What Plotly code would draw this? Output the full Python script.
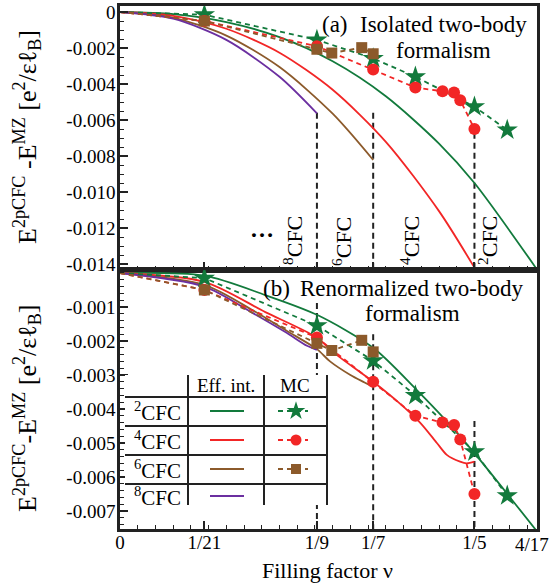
import plotly.graph_objects as go

# ---------------- data ----------------
NU_TICKS = [0, 1/21, 1/9, 1/7, 1/5, 4/17]
NU_LABELS = ["0", "1/21", "1/9", "1/7", "1/5", ""]
NU_EDGE_LABEL = "4/17"
A_YTICKS = [0, -0.002, -0.004, -0.006, -0.008, -0.010, -0.012, -0.014]
A_YLABELS = ["0", "-0.002", "-0.004", "-0.006", "-0.008", "-0.010", "-0.012", "-0.014"]
B_YTICKS = [-0.001, -0.002, -0.003, -0.004, -0.005, -0.006, -0.007]
B_YLABELS = ["-0.001", "-0.002", "-0.003", "-0.004", "-0.005", "-0.006", "-0.007"]
A_YRANGE = [-0.01433, 0.000333]
B_YRANGE = [-0.00753, 0.000088]

# (a) isolated two-body, effective interaction
a_nu_2 = [0, 0.03, 0.06, 0.09, 0.12, 0.15, 0.18, 0.20, 0.2353]
a_E_2 = [0, -0.00012, -0.00056, -0.00140, -0.00274, -0.00468, -0.00731, -0.0095, -0.0143]
a_nu_4 = [0, 0.03, 0.06, 0.09, 0.12, 0.15, 0.18, 0.20]
a_E_4 = [0, -0.00021, -0.00093, -0.00226, -0.00432, -0.00721, -0.01106, -0.0142]
a_nu_6 = [0, 0.03, 0.06, 0.09, 0.12, 1/7]
a_E_6 = [0, -0.00032, -0.00131, -0.00306, -0.00565, -0.00822]
a_nu_8 = [0, 0.03, 0.06, 0.09, 1/9]
a_E_8 = [0, -0.00037, -0.00155, -0.00360, -0.00563]

# (b) renormalized two-body, effective interaction
b_nu_2 = [0, 1/21, 0.082, 1/9, 1/7, 1/6, 0.185, 1/5, 4/17]
b_E_2 = [0, -0.00008, -0.00065, -0.00123, -0.0022, -0.0034, -0.0044, -0.0053, -0.0076]
b_nu_4 = [0, 1/21, 0.082, 1/9, 0.12, 1/7, 0.157, 0.1693, 0.1788, 0.1844, 0.1919, 0.1956, 0.2]
b_E_4 = [0, -0.00026, -0.00115, -0.0019, -0.00232, -0.0032, -0.0038, -0.0044, -0.0050,
         -0.00535, -0.00555, -0.0056, -0.00555]
b_nu_6 = [0, 1/21, 0.075, 0.094, 1/9, 0.1185, 0.13, 0.138, 1/7]
b_E_6 = [0, -0.00035, -0.0011, -0.0017, -0.00224, -0.0026, -0.0030, -0.00322, -0.00335]
b_nu_8 = [0, 1/21, 0.075, 0.094, 0.1055, 1/9]
b_E_8 = [0, -0.0004, -0.00118, -0.00176, -0.00214, -0.00226]

# Monte Carlo (same in both panels)
mc_nu_2 = [0, 1/21, 1/9, 1/7, 1/6, 1/5, 0.2185]
mc_E_2 = [0, -0.00015, -0.00155, -0.00258, -0.0036, -0.00526, -0.00655]
mc_nu_4 = [0, 1/21, 1/9, 1/7, 1/6, 0.182, 0.1885, 0.192, 1/5]
mc_E_4 = [0, -0.0005, -0.0019, -0.0032, -0.0042, -0.0044, -0.00447, -0.0049, -0.0065]
mc_nu_6 = [0, 1/21, 1/9, 0.1195, 0.1364, 1/7]
mc_E_6 = [0, -0.0005, -0.00207, -0.00228, -0.00198, -0.00232]

# phase boundaries (vertical dashed lines) and where they start
bnd_nu = [1/9, 1/7, 1/5]
a_bnd_start = [-0.0056, -0.0056, -0.0067]
b_bnd_start = [-0.00088, -0.0018, -0.00435]

# ---------------- styling ----------------
FONT = "Liberation Serif, Times New Roman, serif"
GREEN, RED, BROWN, PURPLE = "#127a3c", "#f22626", "#8c5a2b", "#6b2fa0"
INK = "#222222"
W, H = 551, 584
ML, MR, MT, MB = 120, 14, 6, 55
PW, PH = W - ML - MR, H - MT - MB
SPLIT = 270


def px(xp):
    return (xp - ML) / PW


def py(yp):
    return (H - MB - yp) / PH


fig = go.Figure()


def add_panel(xa, ya, curves, yr, starts):
    for nu, s in zip(bnd_nu, starts):
        fig.add_trace(go.Scatter(x=[nu, nu], y=[s, yr[0] - 0.001], mode="lines",
                                 line=dict(color=INK, width=2, dash="6px,4px"),
                                 xaxis=xa, yaxis=ya, hoverinfo="skip"))
    for (nx, ey), col in zip(curves, [GREEN, RED, BROWN, PURPLE]):
        fig.add_trace(go.Scatter(x=nx, y=ey, mode="lines",
                                 line=dict(color=col, width=1.8, shape="spline", smoothing=0.8),
                                 xaxis=xa, yaxis=ya, hoverinfo="skip"))
    for nx, ey, col, sym, sz in [(mc_nu_2, mc_E_2, GREEN, "star", 16),
                                 (mc_nu_4, mc_E_4, RED, "circle", 12),
                                 (mc_nu_6, mc_E_6, BROWN, "square", 11)]:
        sizes = [0] + [sz] * (len(nx) - 1)
        fig.add_trace(go.Scatter(x=nx, y=ey, mode="lines+markers",
                                 line=dict(color=col, width=1.8, dash="5px,4px"),
                                 marker=dict(symbol=sym, size=sizes, color=col, opacity=1,
                                             line=dict(width=0)),
                                 xaxis=xa, yaxis=ya, hoverinfo="skip"))


add_panel("x", "y", [(a_nu_2, a_E_2), (a_nu_4, a_E_4), (a_nu_6, a_E_6), (a_nu_8, a_E_8)],
          A_YRANGE, a_bnd_start)
add_panel("x2", "y2", [(b_nu_2, b_E_2), (b_nu_4, b_E_4), (b_nu_6, b_E_6), (b_nu_8, b_E_8)],
          B_YRANGE, b_bnd_start)

# ---------------- legend table (pixel space overlay) ----------------
TL, TR, TT, TB = 125, 327, 375, 505
row_y = [411, 440, 469, 496]
hlines = [397, 426, 455, 484]
vlines = [188, 264, 327]
fig.add_trace(go.Scatter(x=[TL, TR, TR, TL, TL], y=[TT, TT, TB, TB, TT], fill="toself",
                         fillcolor="white", mode="lines", line=dict(width=0),
                         xaxis="x3", yaxis="y3", hoverinfo="skip"))
lx, ly = [], []
for h in hlines:
    lx += [TL, TR, None]
    ly += [h, h, None]
for v in vlines:
    lx += [v, v, None]
    ly += [TT, TB, None]
fig.add_trace(go.Scatter(x=lx, y=ly, mode="lines", line=dict(color=INK, width=2),
                         xaxis="x3", yaxis="y3", hoverinfo="skip"))
for ry, col in zip(row_y, [GREEN, RED, BROWN, PURPLE]):
    fig.add_trace(go.Scatter(x=[210, 244], y=[ry, ry], mode="lines",
                             line=dict(color=col, width=2), xaxis="x3", yaxis="y3",
                             hoverinfo="skip"))
for ry, col, sym, sz in zip(row_y[:3], [GREEN, RED, BROWN], ["star", "circle", "square"],
                            [14, 11, 10]):
    fig.add_trace(go.Scatter(x=[278, 308], y=[ry, ry], mode="lines",
                             line=dict(color=col, width=2, dash="5px,4px"),
                             xaxis="x3", yaxis="y3", hoverinfo="skip"))
    fig.add_trace(go.Scatter(x=[296], y=[ry], mode="markers",
                             marker=dict(symbol=sym, size=sz, color=col, opacity=1,
                                         line=dict(width=0)),
                             xaxis="x3", yaxis="y3", hoverinfo="skip"))

# ---------------- axes ----------------
common_x = dict(range=[0, 4/17], tickmode="array", tickvals=NU_TICKS, ticktext=NU_LABELS,
                ticks="inside", ticklen=8, tickwidth=1.5, tickcolor=INK,
                showline=True, linewidth=2.5, linecolor=INK, mirror=True,
                showgrid=False, zeroline=False, automargin=False,
                minor=dict(ticks="inside", ticklen=4, tickwidth=1, tickcolor=INK,
                           tickmode="linear", tick0=0, dtick=0.01),
                tickfont=dict(family=FONT, size=19, color="black"))
common_y = dict(ticks="inside", ticklen=8, tickwidth=1.5, tickcolor=INK,
                showline=True, linewidth=2.5, linecolor=INK, mirror=True, automargin=False,
                showgrid=False, zeroline=False, tickmode="array",
                tickfont=dict(family=FONT, size=19, color="black"))

fig.update_layout(
    width=W, height=H, autosize=False,
    margin=dict(l=ML, r=MR, t=MT, b=MB),
    paper_bgcolor="white", plot_bgcolor="rgba(0,0,0,0)",
    showlegend=False,
    xaxis=dict(common_x, domain=[0, 1], anchor="y", showticklabels=False, matches="x2"),
    yaxis=dict(common_y, domain=[py(SPLIT), 1], anchor="x", range=A_YRANGE,
               tickvals=A_YTICKS, ticktext=A_YLABELS, ticklabelstandoff=-2,
               minor=dict(ticks="inside", ticklen=4, tickwidth=1, tickcolor=INK,
                          tickmode="linear", tick0=0, dtick=0.0005)),
    xaxis2=dict(common_x, domain=[0, 1], anchor="y2", ticklabelstandoff=-6),
    yaxis2=dict(common_y, domain=[0, py(SPLIT)], anchor="x2", range=B_YRANGE,
                tickvals=B_YTICKS, ticktext=B_YLABELS, ticklabelstandoff=-2,
                minor=dict(ticks="inside", ticklen=4, tickwidth=1, tickcolor=INK,
                           tickmode="linear", tick0=0, dtick=0.0002)),
    xaxis3=dict(domain=[0, 1], anchor="y3", range=[ML, W - MR], visible=False,
                fixedrange=True, automargin=False),
    yaxis3=dict(domain=[0, 1], anchor="x3", range=[H - MB, MT], visible=False,
                fixedrange=True, automargin=False),
)


def note(text, xp, yp, size, angle=0, color="black", xanchor="center"):
    fig.add_annotation(text=text, x=px(xp), y=py(yp), xref="paper", yref="paper",
                       xanchor=xanchor, yanchor="middle", showarrow=False,
                       textangle=angle, font=dict(family=FONT, size=size, color=color))


note("(a)", 335, 24, 23)
note("Isolated two-body", 443, 24, 23)
note("formalism", 443, 50, 23)
note("(b)", 276, 288, 23)
note("Renormalized two-body", 411, 288, 23)
note("formalism", 412, 313, 23)
note("<sup>8</sup>CFC", 293, 241, 22, -90)
note("<sup>6</sup>CFC", 342, 242, 22, -90)
note("<sup>4</sup>CFC", 410, 241, 22, -90)
note("<sup>2</sup>CFC", 488, 241, 22, -90)
note("<b>…</b>", 262, 229, 24)
note("Eff. int.", 226, 385, 19)
note("MC", 295, 385, 19)
for ry, lab in zip(row_y, ["2", "4", "6", "8"]):
    note("<sup>%s</sup>CFC" % lab, 157, ry, 21)
note("E<sup>2pCFC</sup> -E<sup>MZ</sup> [e<sup>2</sup>/εℓ<sub>B</sub>]", 27, 137, 26, -90)
note("E<sup>2pCFC</sup>-E<sup>MZ</sup> [e<sup>2</sup>/εℓ<sub>B</sub>]", 27, 408, 26, -90)
note("Filling factor ν", 327, 570, 22)
# last tick label sits at the page edge in the reference
note(NU_EDGE_LABEL, 551, 544, 19, xanchor="right")

fig.write_html("out.html", config={"displayModeBar": False},
               post_script="document.body.style.margin='0';")
